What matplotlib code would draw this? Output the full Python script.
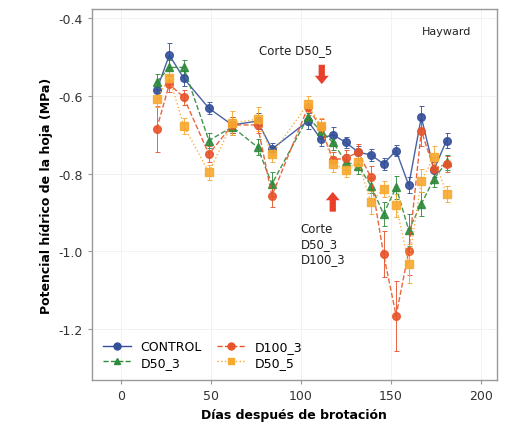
import matplotlib
matplotlib.use("Agg")
import matplotlib.pyplot as plt
from matplotlib.lines import Line2D

days = [20, 27, 35, 49, 62, 76, 84, 104, 111, 118, 125, 132, 139, 146, 153, 160, 167, 174, 181]

control = [-0.585, -0.495, -0.555, -0.632, -0.675, -0.665, -0.737, -0.665, -0.71, -0.70,
           -0.72, -0.745, -0.752, -0.775, -0.741, -0.83, -0.655, -0.79, -0.715]
control_err = [0.02, 0.03, 0.02, 0.015, 0.02, 0.02, 0.015, 0.02, 0.02, 0.02,
               0.015, 0.015, 0.015, 0.015, 0.015, 0.02, 0.03, 0.02, 0.02]

d50_3 = [-0.565, -0.527, -0.527, -0.715, -0.68, -0.732, -0.827, -0.655, -0.69, -0.72,
         -0.77, -0.78, -0.831, -0.904, -0.835, -0.945, -0.878, -0.814, -0.771]
d50_3_err = [0.02, 0.02, 0.02, 0.02, 0.02, 0.02, 0.03, 0.02, 0.02, 0.02,
             0.02, 0.02, 0.02, 0.03, 0.03, 0.04, 0.03, 0.02, 0.02]

d100_3 = [-0.685, -0.57, -0.604, -0.75, -0.675, -0.675, -0.857, -0.63, -0.68, -0.765,
          -0.76, -0.745, -0.81, -1.007, -1.165, -1.0, -0.69, -0.788, -0.775]
d100_3_err = [0.06, 0.02, 0.02, 0.02, 0.02, 0.02, 0.03, 0.02, 0.02, 0.02,
              0.02, 0.02, 0.03, 0.06, 0.09, 0.06, 0.04, 0.03, 0.02]

d50_5 = [-0.608, -0.553, -0.677, -0.797, -0.67, -0.66, -0.75, -0.621, -0.677, -0.775,
         -0.79, -0.77, -0.874, -0.84, -0.882, -1.032, -0.818, -0.758, -0.852]
d50_5_err = [0.02, 0.02, 0.02, 0.02, 0.03, 0.03, 0.02, 0.02, 0.02, 0.02,
             0.02, 0.02, 0.03, 0.02, 0.03, 0.05, 0.03, 0.03, 0.02]

series = [
    ("CONTROL", control, control_err, "#34509a", "o", "-"),
    ("D50_3", d50_3, d50_3_err, "#2f8a3c", "^", "--"),
    ("D100_3", d100_3, d100_3_err, "#e8542a", "o", "--"),
    ("D50_5", d50_5, d50_5_err, "#f7a930", "s", ":"),
]

fig = plt.figure(figsize=(5.05, 4.39), dpi=100)
ax = fig.add_axes([0.182, 0.132, 0.802, 0.845])

handles = []
for name, vals, err, col, mk, ls in series:
    ax.errorbar(days, vals, yerr=err, color=col, marker=mk, linestyle=ls,
                linewidth=1.0, markersize=5.5, elinewidth=0.7, capsize=1.8,
                capthick=0.7, ecolor=col, alpha=0.9)
    handles.append(Line2D([], [], color=col, marker=mk, linestyle=ls, linewidth=1.0,
                          markersize=5, label=name))

ax.set_xlim(-16, 209)
ax.set_ylim(-1.331, -0.377)
ax.set_xticks([0, 50, 100, 150, 200])
ax.set_yticks([-1.2, -1.0, -0.8, -0.6, -0.4])
ax.set_yticklabels(["-1.2", "-1.0", "-0.8", "-0.6", "-0.4"])
ax.grid(True, color="#f0f0f0", linewidth=0.6)
ax.set_axisbelow(True)
for s in ax.spines.values():
    s.set_color("#999999")
    s.set_linewidth(1.0)
ax.tick_params(colors="#333333", labelsize=9, length=3, color="#999999")

ax.set_xlabel("Días después de brotación", fontsize=9, fontweight="bold")
ax.set_ylabel("Potencial hídrico de la hoja (MPa)", fontsize=9, fontweight="bold")

ax.text(181, -0.433, "Hayward", fontsize=8, ha="center", va="center", color="#222222")
ax.text(97, -0.48, "Corte D50_5", fontsize=8.5, ha="center", va="center", color="#222222")
ax.annotate("", xy=(111.7, -0.577), xytext=(111.7, -0.513),
            arrowprops=dict(arrowstyle="simple,head_width=1.0,head_length=0.6,tail_width=0.45",
                            color="#e8402a", lw=0))
ax.annotate("", xy=(117.8, -0.84), xytext=(117.8, -0.905),
            arrowprops=dict(arrowstyle="simple,head_width=1.0,head_length=0.6,tail_width=0.45",
                            color="#e8402a", lw=0))
ax.text(100, -0.925, "Corte\nD50_3\nD100_3", fontsize=8.5, ha="left", va="top",
        color="#222222", linespacing=1.2)

ax.legend(handles=handles, loc="lower left", ncol=2, frameon=False, fontsize=9,
          handlelength=2.2, columnspacing=1.2, borderaxespad=0.5, labelspacing=0.2)

fig.savefig("out.png", dpi=100)
